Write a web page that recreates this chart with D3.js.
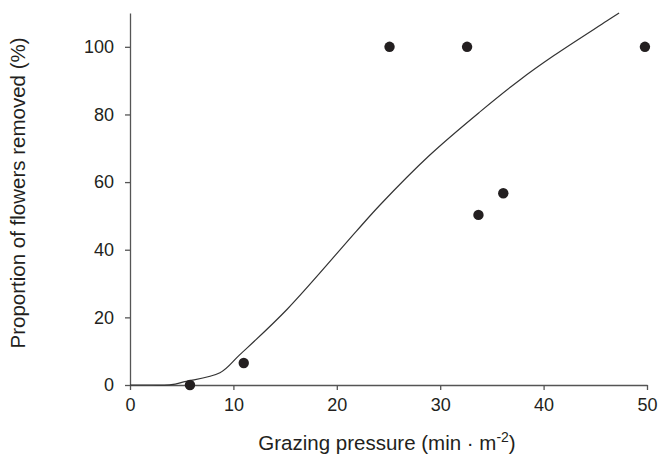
<!DOCTYPE html>
<html>
<head>
<meta charset="utf-8">
<script src="https://cdn.jsdelivr.net/npm/d3@7"></script>
<style>
  body { margin: 0; background: #fff; }
  text { font-family: "Liberation Sans", Arial, sans-serif; fill: #231f20; }
</style>
</head>
<body>
<div id="chart"></div>
<script>
// observed points
var pressure = [5.8, 11.0, 25.1, 32.6, 33.7, 36.1, 49.8];
var removed = [0, 6.5, 100, 100, 50.3, 56.7, 100];

// fitted curve
var fitX = [0, 2, 4, 5.3, 8.7, 10.6, 15.2, 21.9, 24.2, 29.0, 33.9, 37.7, 41.0, 46.1, 47.3];
var fitY = [0, 0, 0.1, 1.0, 3.6, 8.9, 22.4, 45.5, 53.3, 68.0, 80.9, 90.2, 97.4, 107.6, 110];

var xTicks = [0, 10, 20, 30, 40, 50];
var yTicks = [0, 20, 40, 60, 80, 100];

var width = 658, height = 461;
var margin = {top: 13, right: 11, bottom: 76, left: 130};

var svg = d3.select("#chart")
    .append("svg")
    .attr("width", width)
    .attr("height", height);

var x = d3.scaleLinear()
    .domain([0, 50])
    .range([margin.left, width - margin.right]);

var y = d3.scaleLinear()
    .domain([0, 110])
    .range([height - margin.bottom, margin.top]);

var xAxis = svg.append("g")
    .attr("transform", "translate(0," + y(0) + ")")
    .call(d3.axisBottom(x).tickValues(xTicks).tickSize(5).tickSizeOuter(0).tickPadding(8));

var yAxis = svg.append("g")
    .attr("transform", "translate(" + x(0) + ",0)")
    .call(d3.axisLeft(y).tickValues(yTicks).tickSize(5).tickSizeOuter(0).tickPadding(11));

[xAxis, yAxis].forEach(function(a) {
    a.select(".domain").attr("stroke", "#555").attr("stroke-width", 1.3);
    a.selectAll(".tick line").attr("stroke", "#555").attr("stroke-width", 1.3);
    a.selectAll(".tick text")
        .attr("font-size", 18)
        .attr("font-family", "Liberation Sans, Arial, sans-serif")
        .attr("fill", "#231f20");
});

var line = d3.line()
    .x(function(d) { return x(d[0]); })
    .y(function(d) { return y(d[1]); })
    .curve(d3.curveCatmullRom.alpha(0.5));

svg.append("path")
    .datum(d3.zip(fitX, fitY))
    .attr("d", line)
    .attr("fill", "none")
    .attr("stroke", "#333")
    .attr("stroke-width", 1.2);

svg.selectAll(".dot")
    .data(d3.zip(pressure, removed))
    .enter()
    .append("circle")
    .attr("class", "dot")
    .attr("cx", function(d) { return x(d[0]); })
    .attr("cy", function(d) { return y(d[1]); })
    .attr("r", 5.2)
    .attr("fill", "#231f20");

// axis titles
var xt = svg.append("text")
    .attr("x", 387)
    .attr("y", 450)
    .attr("text-anchor", "middle")
    .attr("font-size", 20.5);
xt.append("tspan").text("Grazing pressure (min \u00b7 m");
xt.append("tspan").attr("dy", -8).attr("font-size", 14).text("-2");
xt.append("tspan").attr("dy", 8).text(")");

svg.append("text")
    .attr("transform", "translate(25,193) rotate(-90)")
    .attr("text-anchor", "middle")
    .attr("font-size", 20.5)
    .text("Proportion of flowers removed (%)");
</script>
</body>
</html>
